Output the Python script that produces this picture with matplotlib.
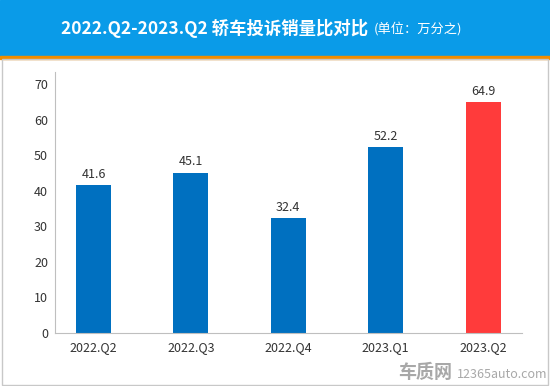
import matplotlib.pyplot as plt
from matplotlib.patches import Rectangle

plt.rcParams['font.family'] = ['Noto Sans CJK SC', 'DejaVu Sans']

quarters = ["2022.Q2", "2022.Q3", "2022.Q4", "2023.Q1", "2023.Q2"]
values = [41.6, 45.1, 32.4, 52.2, 64.9]
colors = ["#0070C0", "#0070C0", "#0070C0", "#0070C0", "#FF3B3B"]
yticks = [0, 10, 20, 30, 40, 50, 60, 70]

fig = plt.figure(figsize=(5.5, 3.86), dpi=100)
W, H = 550, 386

# header band + orange rule + outer frame
fig.patches.append(Rectangle((0, 1 - 56 / H), 1, 56 / H, transform=fig.transFigure,
                             color="#0A9BE8", zorder=0))
fig.patches.append(Rectangle((0, 1 - 59 / H), 1, 3 / H, transform=fig.transFigure,
                             color="#F08C00", zorder=0))
fig.patches.append(Rectangle((1.5 / W, 1.5 / H), 546.5 / W, (H - 60.5) / H,
                             transform=fig.transFigure, fill=False,
                             edgecolor="#C8C8C8", lw=1, zorder=0))

fig.text(368 / W, 1 - 28 / H, "2022.Q2-2023.Q2 轿车投诉销量比对比", color="white",
         fontsize=12.5, fontweight="bold", ha="right", va="center")
fig.text(374 / W, 1 - 28.5 / H, "(单位：万分之)", color="white",
         fontsize=9.5, ha="left", va="center")

ax = fig.add_axes([55 / W, (H - 333) / H, (522 - 55) / W, (333 - 72) / H])
x = list(range(len(quarters)))
bars = ax.bar(x, values, width=0.36, color=colors)
for xi, v in zip(x, values):
    ax.text(xi, v + 1.2, f"{v}", ha="center", va="bottom", fontsize=9, color="#333333")

ax.set_xlim(-0.395, 4.40)
ax.set_ylim(0, 73.4)
ax.set_xticks(x)
ax.set_xticklabels(quarters)
ax.set_yticks(yticks)
ax.tick_params(length=0, labelsize=9, colors="#333333")
ax.tick_params(axis="x", pad=6)
ax.tick_params(axis="y", pad=5)
for s in ["top", "right"]:
    ax.spines[s].set_visible(False)
for s in ["left", "bottom"]:
    ax.spines[s].set_color("#BFBFBF")

# watermark
fig.text(425 / W, 1 - 372 / H, "车质网", color="#A8A8A8", fontsize=13,
         fontweight="bold", ha="center", va="center")
fig.text(502 / W, 1 - 374 / H, "12365auto.com", color="#A8A8A8", fontsize=9,
         ha="center", va="center")

fig.savefig("out.png", dpi=100)
